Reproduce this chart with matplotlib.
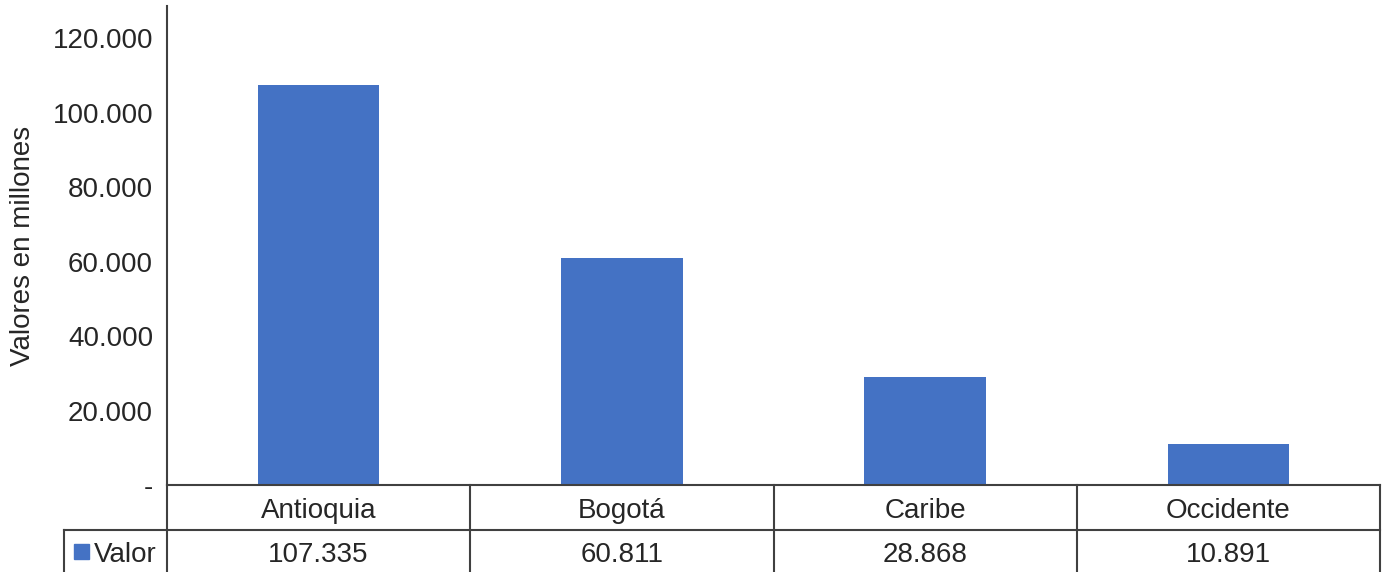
import matplotlib.pyplot as plt
from matplotlib.patches import Rectangle
from matplotlib.transforms import blended_transform_factory

plt.rcParams['font.family'] = ['Liberation Sans', 'DejaVu Sans']

categories = ['Antioquia', 'Bogotá', 'Caribe', 'Occidente']
values = [107335, 60811, 28868, 10891]
yticks = [0, 20000, 40000, 60000, 80000, 100000, 120000]
series_name = 'Valor'

bar_color = '#4472C4'
line_color = '#404040'
text_color = '#262626'
fs = 20


def fmt(v):
    # thousands separated with dots, zero shown as a dash
    if v == 0:
        return '-'
    return '{:,}'.format(v).replace(',', '.')


W, H = 1385, 572
fig = plt.figure(figsize=(W / 100, H / 100), dpi=100)
ax = fig.add_axes([167 / W, 87 / H, 1213 / W, 479 / H])

x = list(range(len(categories)))
ax.bar(x, values, width=0.4, color=bar_color)
ax.set_xlim(-0.5, len(categories) - 0.5)
ax.set_ylim(0, 128600)
ax.set_yticks(yticks)
ax.set_yticklabels([fmt(v) for v in yticks], fontsize=fs, color=text_color)
ax.tick_params(axis='y', length=0, pad=10)
ax.set_xticks([])
ax.set_ylabel('Valores en millones', fontsize=fs, color=text_color, labelpad=12)

for s in ['top', 'right', 'bottom']:
    ax.spines[s].set_visible(False)
ax.spines['left'].set_color(line_color)
ax.spines['left'].set_linewidth(1.5)

# data table under the plot
tr = blended_transform_factory(ax.transData, ax.transAxes)
row1 = -45 / 479
row2 = -0.25
xl, xr = -0.5, len(categories) - 0.5
kw = dict(color=line_color, lw=1.5, clip_on=False, transform=tr)
ax.plot([xl, xr], [0, 0], **kw)
ax.plot([xl - 103 / 303, xr], [row1, row1], **kw)
for b in [xl + i for i in range(len(categories) + 1)]:
    ax.plot([b, b], [0, row2], **kw)
ax.plot([xl - 103 / 303, xl - 103 / 303], [row1, row2], **kw)

for i, (c, v) in enumerate(zip(categories, values)):
    ax.text(i, row1 / 2, c, ha='center', va='center_baseline', fontsize=fs,
            color=text_color, transform=tr, clip_on=False)
    ax.text(i, row1 - 43 / 479 / 2, fmt(v), ha='center', va='center_baseline',
            fontsize=fs, color=text_color, transform=tr, clip_on=False)

# legend key in the table
ax.add_patch(Rectangle((xl - 93 / 303, row1 - 29 / 479), 15 / 303, 15 / 479,
                       color=bar_color, transform=tr, clip_on=False))
ax.text(xl - 73 / 303, row1 - 43 / 479 / 2, series_name, ha='left',
        va='center_baseline', fontsize=fs, color=text_color, transform=tr,
        clip_on=False)

fig.savefig('out.png', dpi=100)
